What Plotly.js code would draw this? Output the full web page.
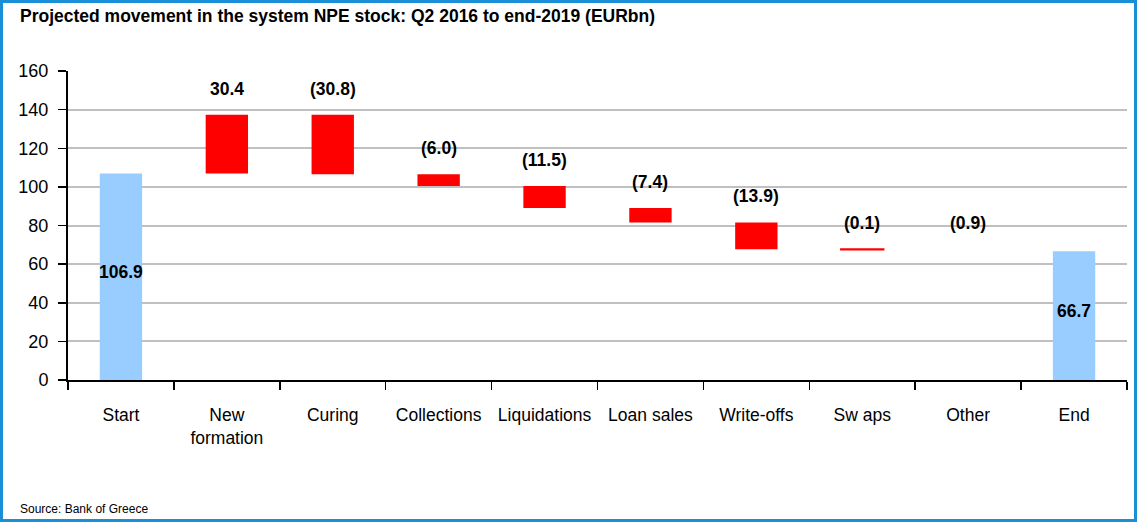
<!DOCTYPE html>
<html>
<head>
<meta charset="utf-8">
<script src="https://cdn.plot.ly/plotly-3.0.1.min.js"></script>
<style>
  html, body { margin: 0; padding: 0; background: #ffffff; }
  #frame { position: absolute; left: 0; top: 0; width: 1131px; height: 516px;
           border: 3px solid #1a8fd8; overflow: hidden; background: #fff; }
  #chart { position: absolute; left: -3px; top: -3px; width: 1137px; height: 522px; }
</style>
</head>
<body>
<div id="frame"><div id="chart"></div></div>
<script>
// ---- data ----
const categories = ['Start', 'New<br>formation', 'Curing', 'Collections', 'Liquidations',
                    'Loan sales', 'Write-offs', 'Sw aps', 'Other', 'End'];
const startValue = 106.9;
const changes = [30.4, -30.8, -6.0, -11.5, -7.4, -13.9, -0.1, -0.9];
const endValue = 66.7;
const barColors = ['#99ccff', '#ff0000', '#ff0000', '#ff0000', '#ff0000',
                   '#ff0000', '#ff0000', '#ff0000', 'rgba(0,0,0,0)', '#99ccff'];
const barOutline = [0, 0, 0, 0, 0, 0, 0, 2, 0, 0];

// ---- build waterfall geometry from the data ----
const bases = [0];
const heights = [startValue];
const tops = [startValue];
let level = startValue;
changes.forEach(function (c) {
  const next = level + c;
  bases.push(Math.min(level, next));
  heights.push(Math.abs(c));
  tops.push(Math.max(level, next));
  level = next;
});
bases.push(0);
heights.push(endValue);
tops.push(endValue);

const fmt = function (v) { return v < 0 ? '(' + Math.abs(v).toFixed(1) + ')' : v.toFixed(1); };

const FF = 'Liberation Sans, Arial, sans-serif';
const lblFont = { family: FF, size: 17.5, color: '#000' };
const annotations = [];
[[0, startValue], [categories.length - 1, endValue]].forEach(function (p) {
  annotations.push({ x: categories[p[0]], y: p[1] / 2, xref: 'x', yref: 'y', text: '<b>' + p[1].toFixed(1) + '</b>',
                     showarrow: false, font: lblFont, yanchor: 'middle', yshift: 5 });
});
changes.forEach(function (c, i) {
  annotations.push({ x: categories[i + 1], y: tops[i + 1], xref: 'x', yref: 'y', text: '<b>' + fmt(c) + '</b>',
                     showarrow: false, font: lblFont, yanchor: 'bottom', yshift: 14 });
});
annotations.push({ xref: 'paper', yref: 'paper', xanchor: 'left', yanchor: 'top',
                   text: '<b>Projected movement in the system NPE stock: Q2 2016 to end-2019 (EURbn)</b>',
                   showarrow: false, font: { family: FF, size: 17.5, color: '#000' },
                   x: -0.047, y: 1.218 });
annotations.push({ xref: 'paper', yref: 'paper', xanchor: 'left', yanchor: 'bottom',
                   text: 'Source: Bank of Greece', showarrow: false,
                   font: { family: FF, size: 12, color: '#000' },
                   x: -0.047, y: -0.445 });

const trace = {
  type: 'bar', x: categories, y: heights, base: bases,
  marker: { color: barColors, line: { width: barOutline, color: barColors } },
  width: 0.4, hoverinfo: 'skip'
};

const layout = {
  width: 1137, height: 522,
  margin: { l: 68, r: 10, t: 71, b: 142 },
  paper_bgcolor: 'rgba(0,0,0,0)', plot_bgcolor: '#fff',
  showlegend: false,
  font: { family: FF, size: 17.5, color: '#000' },
  xaxis: {
    type: 'category', showgrid: false, showline: true, linecolor: '#000', linewidth: 2,
    ticks: 'outside', tickson: 'boundaries', ticklen: 8, tickwidth: 1.5, tickcolor: '#000',
    tickfont: { size: 17.5 }, ticklabelstandoff: 18, zeroline: false, fixedrange: true
  },
  yaxis: {
    range: [0, 160], dtick: 20, showgrid: true, gridcolor: '#c0c0c0', gridwidth: 2,
    showline: true, linecolor: '#000', linewidth: 2, ticks: 'outside', ticklen: 8,
    tickwidth: 1.5, tickcolor: '#000', tickfont: { size: 18 }, ticklabelstandoff: 6,
    zeroline: false, fixedrange: true
  },
  annotations: annotations
};

Plotly.newPlot('chart', [trace], layout, { staticPlot: true, displayModeBar: false });
</script>
</body>
</html>
